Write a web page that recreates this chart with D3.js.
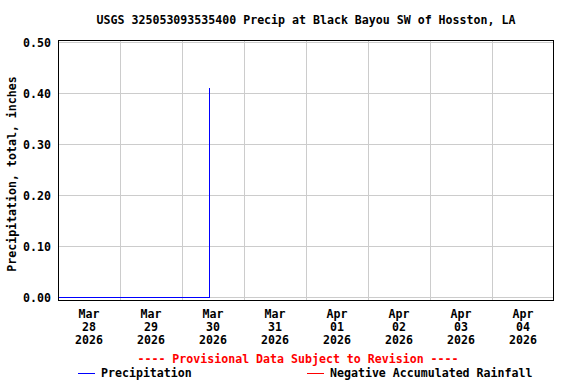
<!DOCTYPE html>
<html>
<head>
<meta charset="utf-8">
<script src="https://cdn.jsdelivr.net/npm/d3@7"></script>
<style>
  body { margin: 0; background: #fff; }
  text { font-family: "DejaVu Sans Mono", "Liberation Mono", monospace; font-weight: bold; }
</style>
</head>
<body>
<div id="area"></div>
<script>
const title = "USGS 325053093535400 Precip at Black Bayou SW of Hosston, LA";
const yLabel = "Precipitation, total, inches";

// cumulative precipitation readings
const precipTimes = ["2026-03-28T00:00", "2026-03-30T10:30", "2026-03-30T10:45"];
const precipValues = [0.0, 0.075, 0.41];

const yTicks = [0.0, 0.1, 0.2, 0.3, 0.4, 0.5];
const dayStarts = ["2026-03-28", "2026-03-29", "2026-03-30", "2026-03-31",
                   "2026-04-01", "2026-04-02", "2026-04-03", "2026-04-04"];
const dayMonth = ["Mar", "Mar", "Mar", "Mar", "Apr", "Apr", "Apr", "Apr"];
const dayNum = ["28", "29", "30", "31", "01", "02", "03", "04"];
const dayYear = ["2026", "2026", "2026", "2026", "2026", "2026", "2026", "2026"];

const width = 576;
const height = 384;
const margin = { top: 40, right: 22, bottom: 83, left: 58 };

const parse = (s) => new Date(s + (s.length > 10 ? ":00Z" : "T00:00:00Z"));
const days = dayStarts.map(parse);
const endDay = new Date(days[days.length - 1].getTime() + 864e5);

const x = d3.scaleUtc()
  .domain([days[0], endDay])
  .range([margin.left, width - margin.right]);

const y = d3.scaleLinear()
  .domain([0, 0.5])
  .range([297.5, 42.5]);

const svg = d3.select("#area")
  .append("svg")
  .attr("width", width)
  .attr("height", height);

const fs = "11.6px";

// title
svg.append("text")
  .attr("x", 306).attr("y", 24)
  .attr("text-anchor", "middle")
  .attr("font-size", fs)
  .text(title);

// horizontal grid
svg.append("g")
  .selectAll("line")
  .data(yTicks)
  .join("line")
  .attr("x1", margin.left).attr("x2", width - margin.right)
  .attr("y1", (d) => y(d)).attr("y2", (d) => y(d))
  .attr("stroke", "#cccccc")
  .attr("shape-rendering", "crispEdges");

// vertical grid at day boundaries
svg.append("g")
  .selectAll("line")
  .data(days.slice(1))
  .join("line")
  .attr("x1", (d) => x(d)).attr("x2", (d) => x(d))
  .attr("y1", margin.top).attr("y2", height - margin.bottom)
  .attr("stroke", "#cccccc")
  .attr("shape-rendering", "crispEdges");

// y tick labels
svg.append("g")
  .selectAll("text")
  .data(yTicks)
  .join("text")
  .attr("x", 51)
  .attr("y", (d) => y(d) + 4)
  .attr("text-anchor", "end")
  .attr("font-size", fs)
  .text((d) => d3.format(".2f")(d));

// y label
svg.append("text")
  .attr("transform", "translate(16,174) rotate(-90)")
  .attr("text-anchor", "middle")
  .attr("font-size", fs)
  .text(yLabel);

// x labels centred at midday
const xl = svg.append("g")
  .selectAll("g")
  .data(days)
  .join("g")
  .attr("transform", (d) => `translate(${x(new Date(d.getTime() + 432e5))},0)`);
xl.append("text").attr("y", 318).attr("text-anchor", "middle").attr("font-size", fs)
  .text((d, i) => dayMonth[i]);
xl.append("text").attr("y", 331).attr("text-anchor", "middle").attr("font-size", fs)
  .text((d, i) => dayNum[i]);
xl.append("text").attr("y", 344).attr("text-anchor", "middle").attr("font-size", fs)
  .text((d, i) => dayYear[i]);

// precipitation line
const precip = precipTimes.map((t, i) => ({ date: parse(t), value: precipValues[i] }));
const line = d3.line()
  .curve(d3.curveStepAfter)
  .x((d) => x(d.date))
  .y((d) => y(d.value));
svg.append("path")
  .attr("fill", "none")
  .attr("stroke", "#0000ff")
  .attr("stroke-width", 1)
  .attr("shape-rendering", "crispEdges")
  .attr("d", line(precip));

// frame
svg.append("rect")
  .attr("x", margin.left + 0.5).attr("y", margin.top + 0.5)
  .attr("width", width - margin.left - margin.right - 1)
  .attr("height", height - margin.top - margin.bottom - 1)
  .attr("fill", "none")
  .attr("stroke", "#000")
  .attr("shape-rendering", "crispEdges");

// provisional note
svg.append("text")
  .attr("x", 298).attr("y", 363)
  .attr("text-anchor", "middle")
  .attr("font-size", fs)
  .attr("fill", "#ff0000")
  .text("---- Provisional Data Subject to Revision ----");

// legend
const legend = [
  { label: "Precipitation", color: "#0000ff", x: 78 },
  { label: "Negative Accumulated Rainfall", color: "#ff0000", x: 307 },
];
legend.forEach((d) => {
  const g = svg.append("g").attr("transform", `translate(${d.x},373)`);
  g.append("line")
    .attr("x1", 0).attr("x2", 17).attr("y1", 0.5).attr("y2", 0.5)
    .attr("stroke", d.color)
    .attr("shape-rendering", "crispEdges");
  g.append("text")
    .attr("x", 23).attr("y", 4)
    .attr("font-size", fs)
    .text(d.label);
});
</script>
</body>
</html>
